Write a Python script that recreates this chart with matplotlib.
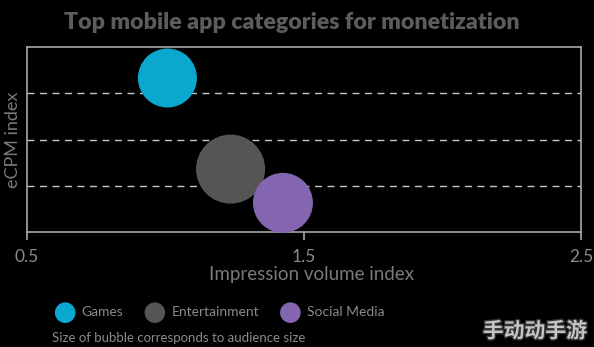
import matplotlib
matplotlib.use("Agg")
import matplotlib.pyplot as plt
import matplotlib.patheffects as pe

plt.rcParams['font.family'] = ['Lato', 'DejaVu Sans']

# bubble data
categories = ["Games", "Entertainment", "Social Media"]
impression_index = [1.007, 1.235, 1.424]
ecpm_index = [3.33, 1.36, 0.63]
audience_size = [1806, 2470, 1866]
colors = ["#0aa8cf", "#555555", "#8466b0"]

x_ticks = [0.5, 1.5, 2.5]
grid_levels = [1, 2, 3]

fig = plt.figure(figsize=(5.94, 3.47), dpi=100, facecolor="black")
ax = fig.add_axes([27 / 594, 115 / 347, 554 / 594, 185 / 347])
ax.set_facecolor("black")

for y in grid_levels:
    ax.axhline(y, color="#c8c8c8", lw=1.0, ls=(0, (5, 4)), zorder=1)

handles = []
for cat, x, y, s, c in zip(categories, impression_index, ecpm_index, audience_size, colors):
    h = ax.scatter(x, y, s=s, color=c, edgecolors="none", zorder=3, label=cat, clip_on=False)
    handles.append(h)

ax.set_xlim(0.5, 2.5)
ax.set_ylim(0, 4)
ax.set_xticks(x_ticks)
ax.set_xticklabels([str(t) for t in x_ticks])
ax.set_yticks([])
for sp in ax.spines.values():
    sp.set_color("#a8a8a8")
    sp.set_linewidth(1.2)
ax.tick_params(axis="x", length=6, width=1.2, color="#a8a8a8", labelcolor="#8a8a8a",
               labelsize=12.5, pad=6)

ax.set_xlabel("Impression volume index", color="#7a7a7a", fontsize=13.5, labelpad=2)
ax.xaxis.set_label_coords(0.513, -0.185)
ax.set_ylabel("eCPM index", color="#7a7a7a", fontsize=13, labelpad=4)

fig.text(0.492, 0.935, "Top mobile app categories for monetization", ha="center", va="center",
         color="#5c5c5c", fontsize=16.7, fontweight="heavy")

leg = fig.legend(handles=handles, loc="center left", bbox_to_anchor=(0.077, 0.1),
                 ncol=3, frameon=False, fontsize=10, labelcolor="#8a8a8a",
                 handletextpad=0.2, columnspacing=1.25, borderaxespad=0)
for h in leg.legend_handles:
    h.set_sizes([220])

fig.text(52 / 594, 1 - 338 / 347, "Size of bubble corresponds to audience size",
         ha="left", va="center", color="#8a8a8a", fontsize=9.5)

fig.text(535 / 594, 1 - 331 / 347, "手动动手游", ha="center", va="center",
         color="#c4c4c4", fontsize=15, fontweight="bold",
         family=["Noto Sans CJK SC", "DejaVu Sans"],
         path_effects=[pe.withStroke(linewidth=2, foreground="#333333")])

fig.savefig("out.png", dpi=100, facecolor="black")
